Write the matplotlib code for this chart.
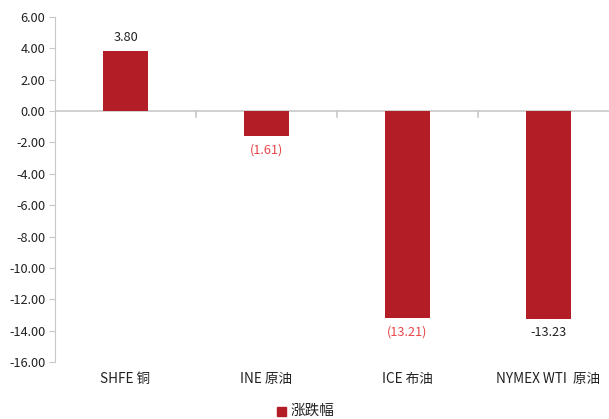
import matplotlib
matplotlib.use("Agg")
import matplotlib.pyplot as plt
import numpy as np

categories = ["SHFE 铜", "INE 原油", "ICE 布油", "NYMEX WTI  原油"]
values = [3.80, -1.61, -13.21, -13.23]
labels = ["3.80", "(1.61)", "(13.21)", "-13.23"]
label_colors = ["#222222", "#E8474A", "#E8474A", "#222222"]
yticks = [6, 4, 2, 0, -2, -4, -6, -8, -10, -12, -14, -16]
series_name = "涨跌幅"

plt.rcParams['font.family'] = ['Noto Sans CJK SC', 'DejaVu Sans']
bar_color = "#B31D25"
axis_color = "#C8C8C8"

fig = plt.figure(figsize=(6.09, 4.19), dpi=100)
ax = fig.add_axes([55/609, 1-362/419, 564/609, (362-17)/419])

x = np.arange(len(categories))
ax.bar(x, values, width=0.32, color=bar_color, zorder=3)
ax.set_xlim(-0.5, len(categories) - 0.5)
ax.set_ylim(-16, 6)
ax.set_yticks(yticks)
ax.set_yticklabels([f"{t:.2f}" for t in yticks], fontsize=9.2, color="#222222")

for s in ["top", "right", "bottom"]:
    ax.spines[s].set_visible(False)
ax.spines["left"].set_color(axis_color)
ax.tick_params(axis="y", length=4, color=axis_color, pad=3)
ax.axhline(0, color=axis_color, lw=1.2, zorder=2)

# category boundary ticks on zero line
ax.set_xticks([])
for b in np.arange(0.5, len(categories) - 0.5, 1.0):
    ax.plot([b, b], [0, -0.35], color=axis_color, lw=1.2, zorder=2, clip_on=False)

for xi, v, lab, c in zip(x, values, labels, label_colors):
    if v >= 0:
        ax.text(xi, v + 0.45, lab, ha="center", va="bottom", fontsize=9.2, color=c)
    else:
        ax.text(xi, v - 0.45, lab, ha="center", va="top", fontsize=9.2, color=c)

for xi, cat in zip(x, categories):
    ax.text(xi, -17.1, cat, ha="center", va="center", fontsize=9.8, color="#222222",
            transform=ax.transData, clip_on=False)

# legend
fig.patches.append(plt.Rectangle((277/609, 1-416/419), 9/609, 9/419,
                                 transform=fig.transFigure, color=bar_color))
fig.text(291/609, 1-411/419, series_name, ha="left", va="center", fontsize=10.5, color="#222222")

fig.savefig("out.png", dpi=100)
